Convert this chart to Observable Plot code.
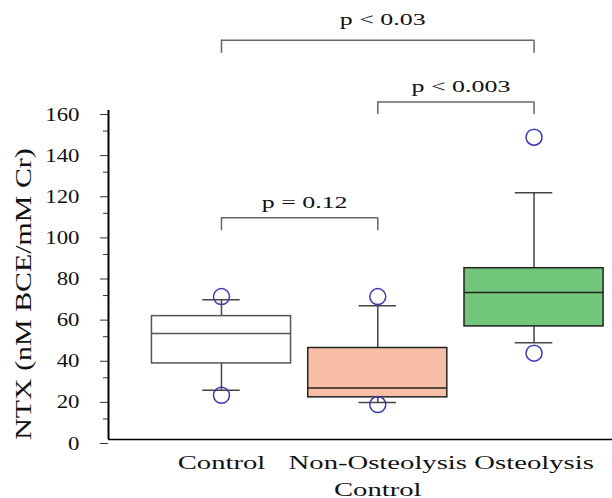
<!DOCTYPE html>
<html>
<head>
<meta charset="utf-8">
<script src="https://cdn.jsdelivr.net/npm/d3@7"></script>
<script src="https://cdn.jsdelivr.net/npm/@observablehq/plot@0.6"></script>
<style>
  html, body { margin: 0; padding: 0; background: #fff; }
  #chart { width: 612px; height: 498px; }
</style>
</head>
<body>
<div id="chart"></div>
<script>
// ---- Data ----
const categories   = ["Control", "Non-Osteolysis\nControl", "Osteolysis"];
const whiskerLow   = [24, 18, 47];
const q1           = [37, 20.5, 55];
const median       = [51.5, 25, 71.5];
const q3           = [60, 44.5, 83.3];
const whiskerHigh  = [68, 65, 120];
const outlierLow   = [21.5, 17, 42];
const outlierHigh  = [69.5, 69.5, 147];

const yTicks       = [0, 20, 40, 60, 80, 100, 120, 140, 160];
const yMinorTicks  = [10, 30, 50, 70, 90, 110, 130, 150];

// significance brackets
const bracketFrom   = [0, 1, 0];
const bracketTo     = [1, 2, 2];
const bracketTop    = [107.8, 164.1, 194.2];
const bracketBottom = [101.5, 158, 187.8];
const bracketLabel  = ["p = 0.12", "p < 0.003", "p < 0.03"];
const bracketLabelY = [112.8, 169, 201.4];

const yLabel = "NTX (nM BCE/mM Cr)";

// ---- Styles ----
const boxFill   = ["#ffffff", "#f8bea6", "#72c67a"];
const boxStroke = ["#555555", "#222222", "#222222"];
const halfBox = 0.445, halfCap = 0.12;

const idx = categories.map((_, i) => i);
const labelRows = categories.flatMap((c, i) => c.split("\n").map((t, j) => ({i, t, j})));
const brackets = bracketLabel.map((label, k) => ({
  a: bracketFrom[k], b: bracketTo[k], top: bracketTop[k], bottom: bracketBottom[k],
  label, ly: bracketLabelY[k]
}));
const bracketEnds = brackets.flatMap(d => [{x: d.a, top: d.top, bottom: d.bottom}, {x: d.b, top: d.top, bottom: d.bottom}]);

const xMin = -0.723, xMax = 2.502;

const plot = Plot.plot({
  width: 612,
  height: 498,
  marginLeft: 108,
  marginRight: 0,
  marginTop: 110,
  marginBottom: 59,
  style: {fontFamily: "'Liberation Serif', 'Times New Roman', serif", background: "#fff", color: "#111"},
  x: {type: "linear", domain: [xMin, xMax], axis: null},
  y: {domain: [0, 160]},
  color: {type: "identity"},
  marks: [
    // y axis ticks and labels
    Plot.axisY({ticks: yTicks, tickSize: 8, tickPadding: 21, fontSize: 19, dy: 4, stroke: "#333", fill: "#111", tickFormat: d => String(d), label: null}),
    Plot.axisY({ticks: yMinorTicks, tickSize: 5, tickFormat: () => "", label: null, stroke: "#333"}),
    // axis lines
    Plot.ruleX([xMin], {y1: 0, y2: 160, stroke: "#000", strokeWidth: 2}),
    Plot.ruleY([0], {stroke: "#000", strokeWidth: 1.5}),
    // whiskers
    Plot.ruleX(idx, {x: i => i, y1: i => q3[i], y2: i => whiskerHigh[i], stroke: "#444", strokeWidth: 1.5}),
    Plot.ruleX(idx, {x: i => i, y1: i => whiskerLow[i], y2: i => q1[i], stroke: "#444", strokeWidth: 1.5}),
    Plot.ruleY(idx, {y: i => whiskerHigh[i], x1: i => i - halfCap, x2: i => i + halfCap, stroke: "#444", strokeWidth: 1.5}),
    Plot.ruleY(idx, {y: i => whiskerLow[i], x1: i => i - halfCap, x2: i => i + halfCap, stroke: "#444", strokeWidth: 1.5}),
    // boxes
    Plot.rect(idx, {x1: i => i - halfBox, x2: i => i + halfBox, y1: i => q1[i], y2: i => q3[i],
      fill: i => boxFill[i], stroke: i => boxStroke[i], strokeWidth: 1.5}),
    Plot.ruleY(idx, {y: i => median[i], x1: i => i - halfBox, x2: i => i + halfBox, stroke: i => boxStroke[i], strokeWidth: 1.5}),
    // outliers
    Plot.dot(idx, {x: i => i, y: i => outlierLow[i], r: 8, stroke: "#3b3bb0", strokeWidth: 1.5, fill: "none"}),
    Plot.dot(idx, {x: i => i, y: i => outlierHigh[i], r: 8, stroke: "#3b3bb0", strokeWidth: 1.5, fill: "none"}),
    // brackets
    Plot.ruleY(brackets, {y: "top", x1: "a", x2: "b", stroke: "#666", strokeWidth: 1.5}),
    Plot.ruleX(bracketEnds, {x: "x", y1: "bottom", y2: "top", stroke: "#666", strokeWidth: 1.5}),
    Plot.text(brackets, {x: d => (d.a + d.b) / 2, y: "ly", text: "label", lineAnchor: "bottom", dx: 5,
      fontSize: 17.3, fill: "#111"}),
    // category labels
    Plot.text(labelRows, {filter: d => d.j === 0, x: "i", text: "t", frameAnchor: "bottom", lineAnchor: "bottom",
      dy: 29, fontSize: 18.5, fill: "#111"}),
    Plot.text(labelRows, {filter: d => d.j === 1, x: "i", text: "t", frameAnchor: "bottom", lineAnchor: "bottom",
      dy: 56, fontSize: 18.5, fill: "#111"}),
    // y axis title
    Plot.text([yLabel], {frameAnchor: "left", textAnchor: "middle", lineAnchor: "middle", rotate: -90,
      dx: -85, dy: 19, fontSize: 23, fill: "#111"})
  ]
});

document.getElementById("chart").appendChild(plot);

// widen glyphs to match the reference's wide serif lettering
const tickStrings = new Set(yTicks.map(String));
const pStrings = new Set(bracketLabel);
const catStrings = new Set(labelRows.map(d => d.t));
plot.querySelectorAll("text").forEach(el => {
  const s = el.textContent;
  const k = tickStrings.has(s) ? 1.2 : pStrings.has(s) ? 1.5 : catStrings.has(s) ? 1.55 : s === yLabel ? 1.3 : 1;
  const L = el.getComputedTextLength();
  if (k !== 1 && L > 0) {
    el.setAttribute("textLength", (L * k).toFixed(1));
    el.setAttribute("lengthAdjust", "spacingAndGlyphs");
  }
});
</script>
</body>
</html>
